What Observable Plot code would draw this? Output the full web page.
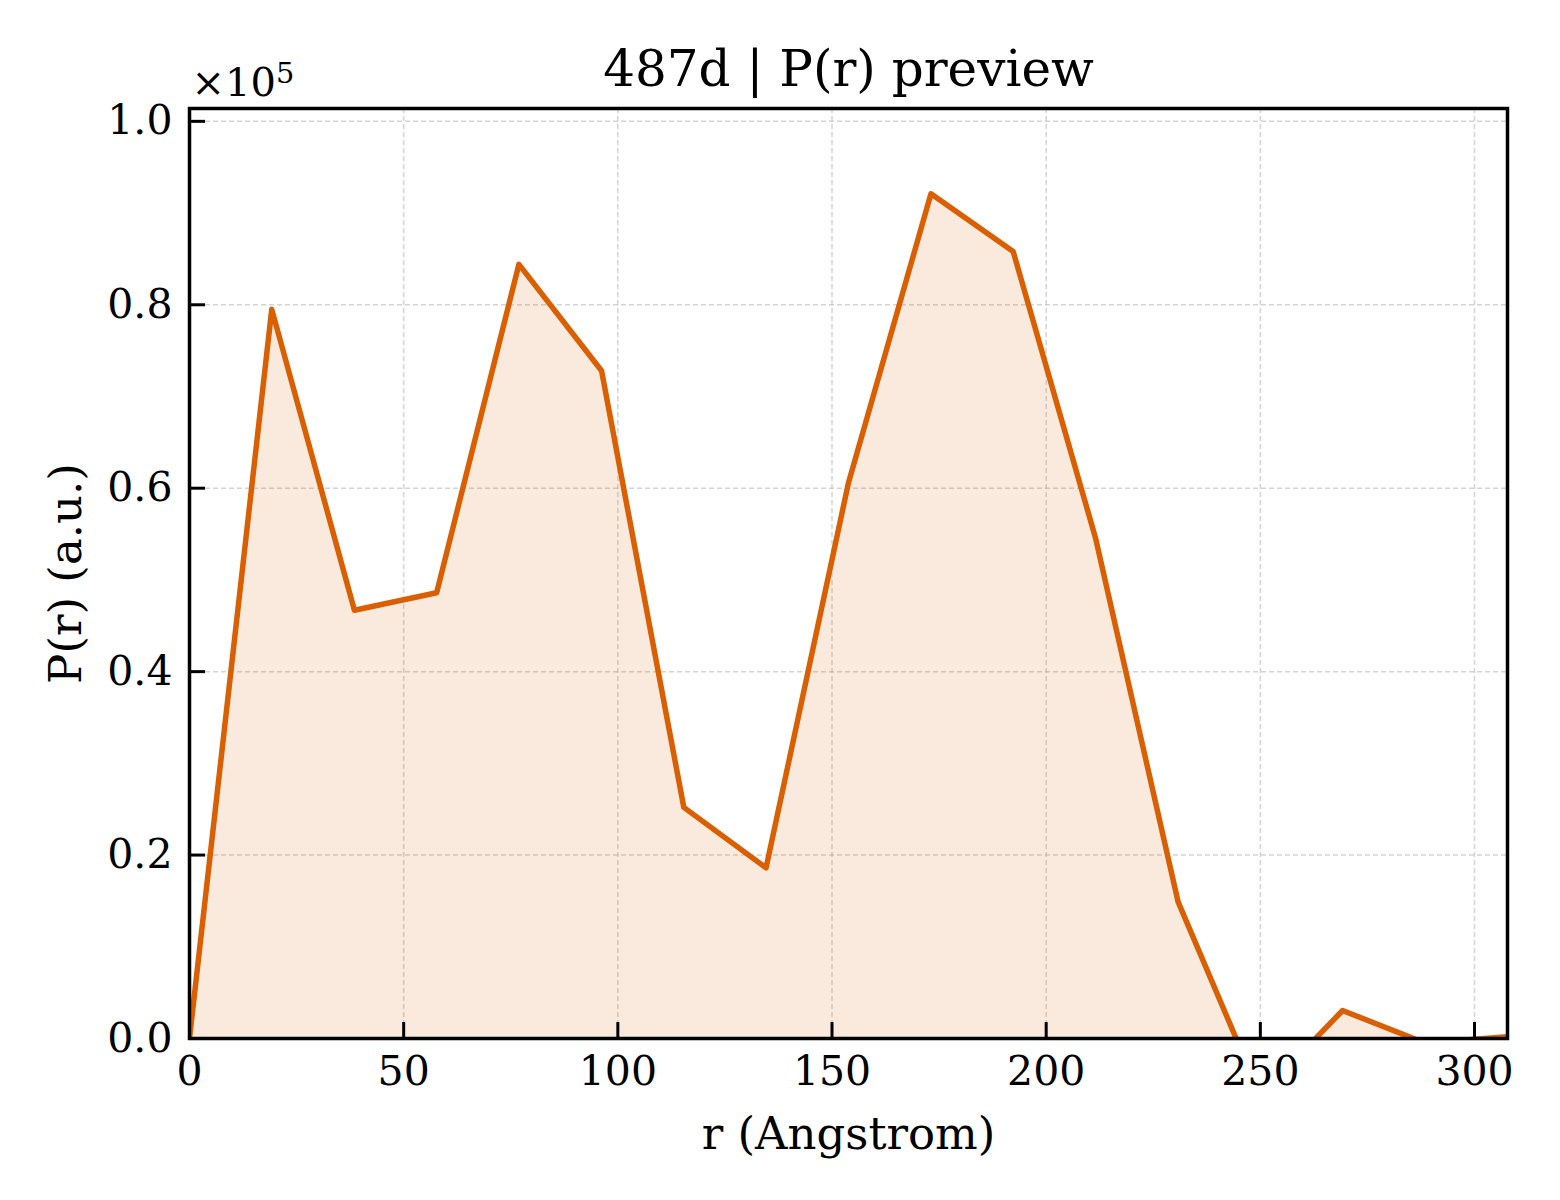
<!DOCTYPE html>
<html>
<head>
<meta charset="utf-8">
<script src="https://cdn.jsdelivr.net/npm/d3@7"></script>
<script src="https://cdn.jsdelivr.net/npm/@observablehq/plot@0.6"></script>
<style>
  html, body { margin: 0; padding: 0; background: #fff; }
  #chart svg { display: block; }
</style>
</head>
<body>
<div id="chart"></div>
<script>
const titleText = "487d | P(r) preview";
const xLabel = "r (Angstrom)";
const yLabel = "P(r) (a.u.)";
const offsetText = "×10";
const offsetExp = "5";

const rValues = [0, 19.2, 38.5, 57.7, 76.9, 96.2, 115.4, 134.6, 153.8, 173.1, 192.3, 211.5, 230.8, 250.0, 269.2, 288.5, 307.7];
const pValues = [0, 79500, 46700, 48600, 84400, 72800, 25200, 18600, 60500, 92100, 85800, 54600, 14900, -6200, 3050, -500, 200];

const xTicks = [0, 50, 100, 150, 200, 250, 300];
const yTicks = [0, 20000, 40000, 60000, 80000, 100000];
const xDomain = [0, 307.7];
const yDomain = [0, 101400];

const lineColor = "#D95F02";
const font = "'DejaVu Serif', 'Liberation Serif', serif";

const data = rValues.map((r, i) => ({r, p: pValues[i]}));

const chart = Plot.plot({
  width: 1560,
  height: 1200,
  marginLeft: 189,
  marginRight: 53,
  marginTop: 108,
  marginBottom: 162,
  style: {fontFamily: font, background: "#fff", color: "#000"},
  x: {domain: xDomain, axis: null},
  y: {domain: yDomain, axis: null},
  marks: [
    Plot.gridX(xTicks, {stroke: "#b0b0b0", strokeOpacity: 0.55, strokeWidth: 1.5, strokeDasharray: "5,3"}),
    Plot.gridY(yTicks, {stroke: "#b0b0b0", strokeOpacity: 0.55, strokeWidth: 1.5, strokeDasharray: "5,3"}),
    Plot.areaY(data, {x: "r", y: "p", fill: lineColor, fillOpacity: 0.13, clip: true}),
    Plot.lineY(data, {x: "r", y: "p", stroke: lineColor, strokeWidth: 5.5, clip: true}),
    Plot.frame({stroke: "#000", strokeWidth: 3.5}),
    Plot.axisX(xTicks, {anchor: "bottom", tickSize: -16, tickPadding: 33, strokeWidth: 3, fontSize: 41, tickFormat: d => String(d), label: null}),
    Plot.axisY(yTicks, {anchor: "left", tickSize: -16, tickPadding: 33, strokeWidth: 3, fontSize: 41, tickFormat: d => (d / 1e5).toFixed(1), label: null}),
    Plot.text([titleText], {frameAnchor: "top", dy: -23, lineAnchor: "bottom", fontSize: 50}),
    Plot.text([xLabel], {frameAnchor: "bottom", dy: 110, lineAnchor: "bottom", fontSize: 45}),
    Plot.text([yLabel], {frameAnchor: "left", dx: -109, rotate: -90, textAnchor: "middle", lineAnchor: "bottom", fontSize: 45}),
    Plot.text([offsetText], {frameAnchor: "top-left", dx: 2, dy: -13, lineAnchor: "bottom", textAnchor: "start", fontSize: 40, className: "offset-label"})
  ]
});

document.getElementById("chart").appendChild(chart);

// add the exponent as a superscript tspan to the offset label
d3.select(chart).selectAll("g.offset-label text").each(function() {
  const t = d3.select(this);
  t.append("tspan").attr("dy", "-0.45em").attr("font-size", "0.72em").text(offsetExp);
});
</script>
</body>
</html>
